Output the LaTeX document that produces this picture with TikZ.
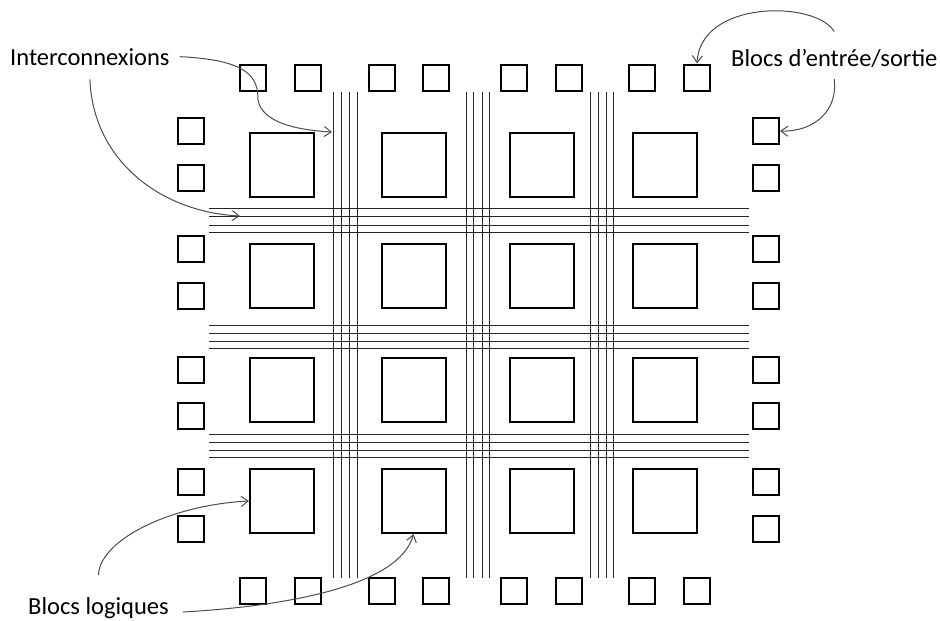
\documentclass[tikz,border=0pt]{standalone}
\usepackage{fontspec}
\setmainfont{Carlito}
\usetikzlibrary{arrows.meta}

\begin{document}
\begin{tikzpicture}[x=1pt, y=-1pt,
  logic/.style={draw, line width=2pt, minimum size=64pt, inner sep=0pt},
  iob/.style={draw, line width=2pt, minimum size=26pt, inner sep=0pt},
  bus/.style={black!85, line width=1pt},
  lbl/.style={font=\fontsize{24.5}{28}\selectfont, inner sep=0pt},
  arr/.style={-{Straight Barb[length=7pt,width=10pt]}, black!70, line width=1pt}]
  \useasboundingbox (0,0) rectangle (940,621);

  % bus verticaux entre les colonnes
  \foreach \x in {333,341,349,357,466,473,482,489,590,598,606,613}
    \draw[bus] (\x,92) -- (\x,578);
  % bus horizontaux entre les rangees
  \foreach \y in {208,216,225,232,325,333,341,348,434,442,450,457}
    \draw[bus] (209,\y) -- (749,\y);

  % blocs logiques (4 x 4)
  \foreach \x [count=\c] in {282,413.5,541.5,665}
    \foreach \y [count=\r] in {165,276,389.5,501}
      \node[logic] (L\r\c) at (\x,\y) {};

  % blocs d'entree/sortie : cotes gauche et droit
  \foreach \y [count=\i] in {131,177.5,249,295.5,369.5,415.5,482,528.5} {
    \node[iob] (W\i) at (191,\y) {};
    \node[iob] (E\i) at (766,\y) {};
  }
  % blocs d'entree/sortie : haut et bas
  \foreach \x [count=\i] in {253,308,381.5,436,514,569,642,697} {
    \node[iob] (N\i) at (\x,77.5) {};
    \node[iob] (S\i) at (\x,590.5) {};
  }

  % etiquettes
  \node[lbl, anchor=base west] (inter) at (10,65) {Interconnexions};
  \node[lbl, anchor=base west] (io) at (731,66) {Blocs d’entrée/sortie};
  \node[lbl, anchor=base west] (logq) at (28,614) {Blocs logiques};

  % extremites sur les bus
  \coordinate (vbus) at (332,132);
  \coordinate (hbus) at (240,216);

  % fleches
  \draw[arr] ([xshift=10pt]inter.east) .. controls (250,60) and (258,78) .. (258,100)
    .. controls (262,122) and (295,130) .. (vbus);
  \draw[arr] ([yshift=-14pt]inter.south) .. controls (93,160) and (160,212) .. (hbus);
  \draw[arr] ([yshift=17pt]io.north) .. controls (815,0) and (700,0) .. (N8.north);
  \draw[arr] ([yshift=-12pt]io.south) .. controls (838,110) and (815,132) .. (E1.east);
  \draw[arr] ([yshift=22pt]logq.north) .. controls (100,540) and (170,505) .. (L41.west);
  \draw[arr] ([xshift=14pt,yshift=2pt]logq.base east) .. controls (290,606) and (400,585) .. (L42.south);
\end{tikzpicture}
\end{document}
